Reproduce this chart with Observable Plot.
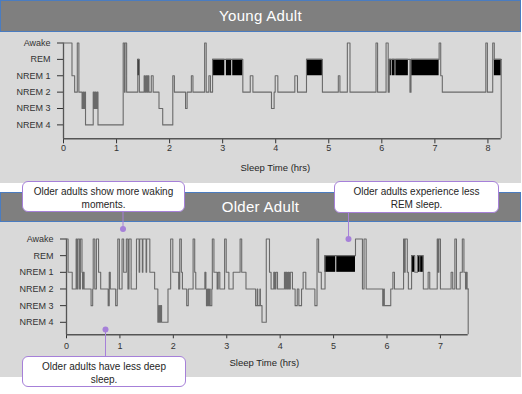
<!DOCTYPE html>
<html><head><meta charset="utf-8">
<script src="https://cdn.jsdelivr.net/npm/d3@7"></script>
<script src="https://cdn.jsdelivr.net/npm/@observablehq/plot@0.6"></script>
<style>
body{margin:0;background:#fff;font-family:"Liberation Sans",Arial,sans-serif;}
#root{position:relative;width:522px;height:394px;overflow:hidden;background:#fff;}
.hdr{position:absolute;left:0;width:519px;background:#7f7f7f;border:1px solid #4a7cc0;color:#fff;font-size:15px;text-align:center;letter-spacing:0.3px;}
.bg{position:absolute;left:0;width:521px;background:#d9d9d9;}
.plot{position:absolute;left:0;}
.callout{position:absolute;background:#fff;border:1px solid #a680d9;border-radius:6px;font-size:10px;line-height:13px;text-align:center;color:#262626;box-sizing:border-box;padding-top:3px;}
#over{position:absolute;left:0;top:0;}
</style>
</head><body>
<div id="root">
  <div class="bg" style="top:32px;height:151px"></div>
  <div class="bg" style="top:222px;height:155px"></div>
  <div class="hdr" style="top:0;height:30px;line-height:30px">Young Adult</div>
  <div class="hdr" style="top:192px;height:28px;line-height:28px">Older Adult</div>
  <div class="plot" id="p1" style="top:32px"></div>
  <div class="plot" id="p2" style="top:222px"></div>
  <svg id="over" width="522" height="394">
    <line x1="123" y1="212" x2="123" y2="229" stroke="#a680d9" stroke-width="1"/>
    <circle cx="123" cy="229" r="3" fill="#a680d9"/>
    <line x1="348.5" y1="213" x2="348.5" y2="239" stroke="#a680d9" stroke-width="1"/>
    <circle cx="348.5" cy="239" r="3" fill="#a680d9"/>
    <line x1="105.5" y1="356" x2="105.5" y2="329.5" stroke="#a680d9" stroke-width="1"/>
    <circle cx="105.5" cy="329.5" r="3" fill="#a680d9"/>
  </svg>
  <div class="callout" style="left:22px;top:181px;width:163px;height:31px">Older adults show more waking<br>moments.</div>
  <div class="callout" style="left:334px;top:181px;width:165px;height:32px">Older adults experience less<br>REM sleep.</div>
  <div class="callout" style="left:22px;top:356px;width:164px;height:31px">Older adults have less deep<br>sleep.</div>
</div>
<script>
// Stage codes: 0 Awake, 1 REM, 2 NREM 1, 3 NREM 2, 4 NREM 3, 5 NREM 4
const stageLabels = ["Awake", "REM", "NREM 1", "NREM 2", "NREM 3", "NREM 4"];
const stageTicks = [0, 1, 2, 3, 4, 5];
const axisTitle = "Sleep Time (hrs)";

const youngHours = [0, 0.16, 0.21, 0.26, 0.29, 0.35, 0.37, 0.38, 0.40, 0.415, 0.56, 0.58, 0.595, 0.61, 0.63, 0.65,
  1.125, 1.15, 1.16, 1.19, 1.40, 1.43, 1.52, 1.54, 1.56, 1.58, 1.59, 1.61, 1.655, 1.69, 1.80, 1.87,
  2.06, 2.09, 2.30, 2.33, 2.41, 2.44, 2.66, 2.69, 2.74, 2.77, 2.81, 3.38, 3.52, 3.57, 3.92, 3.97, 3.99, 4.04,
  4.36, 4.41, 4.58, 4.88, 5.18, 5.21, 5.35, 5.40, 5.89, 5.92, 6.08, 6.12, 6.14, 6.53, 6.55,
  7.08, 7.11, 7.14, 7.96, 7.99, 8.09, 8.12, 8.25];
const youngStage = [0, 2, 3, 0, 3, 4, 3, 4, 3, 5, 3, 4, 3, 4, 3, 5,
  0, 3, 0, 3, 1, 3, 2, 3, 2, 3, 2, 3, 2, 3, 4, 5,
  2, 3, 4, 3, 2, 3, 0, 3, 2, 3, 1, 3, 2, 3, 4, 3, 2, 3,
  2, 3, 1, 3, 2, 3, 0, 3, 0, 3, 0, 3, 1, 3, 1,
  0, 2, 3, 0, 3, 0, 1, 1];
const youngRemStart = [1.40, 2.81, 3.07, 3.19, 4.58, 6.14, 6.195, 6.265, 6.555, 8.12];
const youngRemEnd   = [1.43, 3.04, 3.17, 3.38, 4.88, 6.18, 6.25, 6.50, 7.08, 8.25];
const youngTicks = [0, 1, 2, 3, 4, 5, 6, 7, 8];

const olderHours = [0, 0.03, 0.107, 0.18, 0.20, 0.215, 0.245, 0.26, 0.29, 0.30, 0.31, 0.33, 0.46, 0.49, 0.50, 0.53,
  0.56, 0.60, 0.64, 0.78, 0.80, 0.82, 0.92, 0.95, 0.96, 0.99, 1.04, 1.07, 1.12, 1.15, 1.17, 1.21,
  1.31, 1.36, 1.37, 1.42, 1.43, 1.49, 1.50, 1.56, 1.65, 1.71, 1.73, 1.74, 1.76, 1.78, 1.90, 1.95, 1.99,
  2.10, 2.12, 2.15, 2.17, 2.25, 2.28, 2.37, 2.40, 2.42, 2.59, 2.61, 2.62, 2.64, 2.66, 2.68, 2.69, 2.72,
  2.73, 2.76, 2.82, 2.84, 2.87, 2.96, 2.99, 3.04, 3.12, 3.25, 3.28, 3.36, 3.54, 3.57, 3.58, 3.62, 3.63,
  3.66, 3.74, 3.80, 3.83, 3.88, 3.90, 3.92, 3.95, 4.08, 4.10, 4.11, 4.13, 4.15, 4.17, 4.19, 4.23,
  4.28, 4.32, 4.35, 4.40, 4.43, 4.48, 4.65, 4.69, 4.72, 4.77, 4.84, 5.41, 5.54, 5.57, 5.61,
  5.92, 5.94, 5.95, 6.07, 6.11, 6.14, 6.31, 6.33, 6.34, 6.38, 6.40, 6.46, 6.52, 6.57, 6.68,
  6.77, 6.80, 6.94, 6.96, 6.97, 7.00, 7.20, 7.23, 7.27, 7.30, 7.37, 7.41, 7.44, 7.47, 7.48, 7.50, 7.52];
const olderStage = [0, 2, 3, 0, 3, 0, 3, 0, 2, 3, 2, 3, 4, 3, 0, 3,
  0, 2, 3, 4, 2, 3, 4, 3, 0, 3, 0, 2, 0, 3, 0, 3,
  0, 2, 0, 2, 0, 2, 0, 2, 3, 5, 4, 5, 4, 5, 3, 0, 2,
  3, 0, 2, 3, 4, 3, 0, 2, 3, 2, 3, 4, 3, 4, 3, 4, 3,
  0, 2, 3, 2, 3, 0, 2, 3, 2, 0, 2, 3, 4, 3, 4, 3, 4,
  5, 0, 2, 3, 2, 3, 2, 3, 2, 3, 2, 3, 2, 3, 2, 3,
  4, 3, 4, 3, 2, 3, 4, 0, 2, 3, 1, 0, 3, 0, 3,
  4, 3, 4, 3, 2, 3, 0, 2, 0, 2, 3, 1, 2, 1, 3,
  2, 3, 0, 2, 0, 3, 2, 3, 0, 3, 2, 0, 2, 3, 2, 3, 3];
const olderRemStart = [4.84, 5.06, 6.46, 6.57, 6.63];
const olderRemEnd   = [5.04, 5.41, 6.52, 6.62, 6.68];
const olderTicks = [0, 1, 2, 3, 4, 5, 6, 7];

function panel(o) {
  const data = o.hours.map((t, i) => ({t, s: o.stage[i]}));
  const blocks = o.remStart.map((a, i) => ({a, b: o.remEnd[i]}));
  const xMax = o.hours[o.hours.length - 1];
  const last = o.stage[o.stage.length - 1];
  return Plot.plot({
    width: 522, height: o.height,
    marginLeft: o.mL, marginRight: o.mR, marginTop: o.mT, marginBottom: o.mB,
    style: {background: "transparent", fontFamily: "'Liberation Sans', Arial, sans-serif", fontSize: "9px", color: "#333", overflow: "visible"},
    x: {domain: [0, xMax], ticks: o.xTicks, tickFormat: d => String(d), tickSize: o.tickSize, tickPadding: o.tickPad, label: null},
    y: {domain: [o.yMax, 0], ticks: stageTicks, tickFormat: i => stageLabels[i], tickSize: 6, tickPadding: 7, label: null},
    marks: [
      Plot.ruleY([o.yMax], {x1: 0, x2: xMax, stroke: "#555", strokeWidth: 1.5}),
      Plot.ruleX([0], {y1: 0, y2: o.yMax, stroke: "#555", strokeWidth: 1.3}),
      Plot.rect(blocks, {x1: "a", x2: "b", y1: 1, y2: 2, fill: "#000"}),
      Plot.line(data, {x: "t", y: "s", curve: "step-after", stroke: "#6a6a6a", strokeWidth: 1.1}),
      Plot.ruleX([xMax], {y1: last, y2: o.yMax, stroke: "#6a6a6a", strokeWidth: 1.1}),
      Plot.text([axisTitle], {frameAnchor: "bottom", lineAnchor: "middle", dy: o.labDy, dx: o.labDx, fontSize: 9.5, fill: "#262626"})
    ]
  });
}

document.getElementById("p1").appendChild(panel({
  hours: youngHours, stage: youngStage, remStart: youngRemStart, remEnd: youngRemEnd, xTicks: youngTicks,
  height: 150, mL: 63, mR: 21.3, mT: 10.5, mB: 43.7, yMax: 5.85, tickSize: 5, tickPad: 1, labDy: 28.7, labDx: -7
}));
document.getElementById("p2").appendChild(panel({
  hours: olderHours, stage: olderStage, remStart: olderRemStart, remEnd: olderRemEnd, xTicks: olderTicks,
  height: 155, mL: 66, mR: 54.3, mT: 16.5, mB: 42.7, yMax: 5.75, tickSize: 4, tickPad: 4, labDy: 28.4, labDx: -3
}));
</script>
</body></html>
